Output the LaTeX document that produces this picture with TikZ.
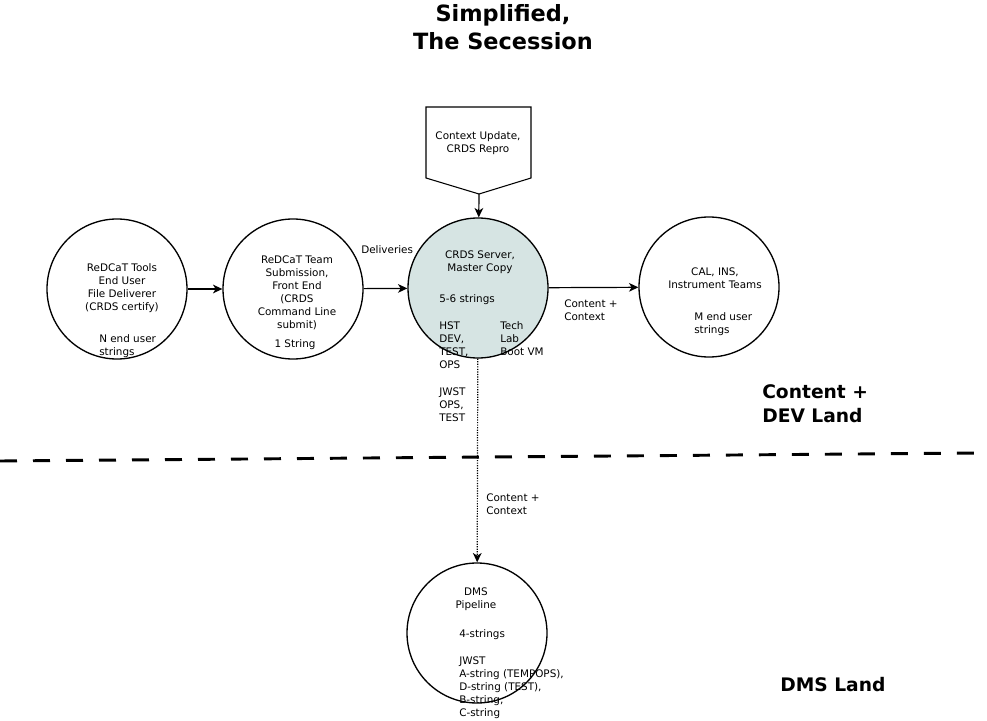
\documentclass[tikz,border=0pt]{standalone}
\usepackage{fontspec}
\setmainfont{DejaVu Sans}
\usepackage{tikz}
\usetikzlibrary{arrows.meta}
\definecolor{serveur}{RGB}{214,228,227}

\begin{document}
\begin{tikzpicture}[x=0.75pt,y=-0.75pt,
    rond/.style={draw, circle, line width=1pt, minimum size=105pt, inner sep=0pt},
    petit/.style={font=\fontsize{7.8}{9.75}\selectfont, inner sep=0pt, yshift=-1.1pt},
    gros/.style={font=\fontsize{14}{18}\selectfont\bfseries, inner sep=0pt, align=left, anchor=west},
    fleche/.style={-{Stealth[length=7pt,width=6.5pt,inset=2pt]}, line width=0.9pt}]
\useasboundingbox (0,0) rectangle (987,720);
% titre
\node[font=\fontsize{16.8}{20.5}\selectfont\bfseries, align=center, inner sep=0pt] (titre) at (503,27) {Simplified,\\The Secession};
% cercles
\node[rond] (outils) at (117,289) {};
\node[rond] (equipe) at (293,289) {};
\node[rond, fill=serveur] (serveur) at (478,288) {};
\node[rond] (instr) at (709,287) {};
\node[rond] (dms) at (477,633) {};
% pentagone
\draw[line width=0.8pt] (426,107) -- (531,107) -- (531,178) -- (479,194) -- (426,178) -- cycle;
\coordinate (pointe) at (479,194);
\node[petit, align=center] (repro) at (478,141.5) {Context Update,\\CRDS Repro};
% fleches
\draw[fleche] (pointe) -- (serveur);
\draw[fleche] (outils) -- (equipe);
\draw[fleche] (equipe) -- (serveur);
\draw[fleche] (serveur) -- (instr);
\draw[fleche, densely dotted] (serveur) -- (dms);
% ligne de separation
\coordinate (gauche) at (0,461);
\coordinate (droite) at (978,453);
\draw[line width=2.2pt, dash pattern=on 12.75pt off 12pt] (gauche) -- (droite);
% textes
\node[petit, align=center] (outilstxt) at (122,286.5) {ReDCaT Tools\\End User\\File Deliverer\\(CRDS certify)};
\node[petit, align=left, anchor=west] (nusers) at (99,344.5) {N end user\\strings};
\node[petit, align=center] (equipetxt) at (297,291) {ReDCaT Team\\Submission,\\Front End\\(CRDS\\Command Line\\submit)};
\node[petit] (unestring) at (295,343) {1 String};
\node[petit, anchor=west] (livr) at (361,248) {Deliveries};
\node[petit, align=center] (serveurtxt) at (480,260.5) {CRDS Server,\\Master Copy};
\node[petit, anchor=west] (cinq) at (439,298) {5-6 strings};
\node[petit, align=left, anchor=west] (hst) at (439,344) {HST\\DEV,\\TEST,\\OPS};
\node[petit, align=left, anchor=west] (tech) at (500,337) {Tech\\Lab\\Boot VM};
\node[petit, align=left, anchor=west] (jwst) at (439,403.5) {JWST\\OPS,\\TEST};
\node[petit, align=left, anchor=west] (contenu) at (564,308.5) {Content +\\Context};
\node[petit, align=center] (instrtxt) at (715,276.5) {CAL, INS,\\Instrument Teams};
\node[petit, align=left, anchor=west] (musers) at (694,322.5) {M end user\\strings};
\node[petit, align=left, anchor=west] (contenubas) at (486,502.5) {Content +\\Context};
\node[petit, align=center] (dmstxt) at (476,597.5) {DMS\\Pipeline};
\node[petit, anchor=west] (quatre) at (459,633) {4-strings};
\node[petit, align=left, anchor=west] (jwstdms) at (459,686.5) {JWST\\A-string (TEMPOPS),\\D-string (TEST),\\B-string,\\C-string};
% zones
\node[gros] (devland) at (762,404) {Content +\\DEV Land};
\node[gros] (dmsland) at (780,685) {DMS Land};
\end{tikzpicture}
\end{document}
